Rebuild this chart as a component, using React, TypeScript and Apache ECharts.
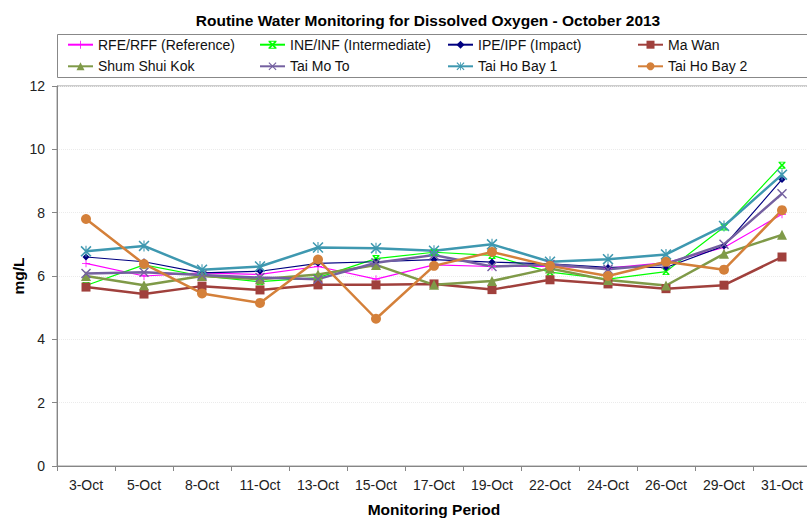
import React, { useEffect, useRef } from "react";
import * as echarts from "echarts";

const categories = ["3-Oct", "5-Oct", "8-Oct", "11-Oct", "13-Oct", "15-Oct", "17-Oct", "19-Oct", "22-Oct", "24-Oct", "26-Oct", "29-Oct", "31-Oct"];

const rfe = [6.4, 6.0, 6.1, 6.05, 6.3, 5.9, 6.35, 6.3, 6.3, 6.25, 6.42, 6.9, 7.95];
const ine = [5.7, 6.35, 6.0, 5.82, 5.95, 6.55, 6.75, 6.65, 6.12, 5.9, 6.14, 7.55, 9.5];
const ipe = [6.6, 6.45, 6.1, 6.15, 6.4, 6.45, 6.52, 6.44, 6.38, 6.27, 6.27, 6.95, 9.05];
const maWan = [5.65, 5.43, 5.68, 5.56, 5.72, 5.72, 5.75, 5.57, 5.88, 5.75, 5.6, 5.71, 6.6];
const shumShuiKok = [6.0, 5.71, 6.0, 5.9, 6.05, 6.35, 5.72, 5.84, 6.24, 5.87, 5.7, 6.7, 7.3];
const taiMoTo = [6.08, 6.12, 6.03, 5.95, 5.9, 6.42, 6.66, 6.3, 6.36, 6.21, 6.38, 7.0, 8.6];
const taiHoBay1 = [6.78, 6.95, 6.2, 6.3, 6.9, 6.88, 6.8, 7.0, 6.45, 6.53, 6.68, 7.58, 9.2];
const taiHoBay2 = [7.8, 6.38, 5.45, 5.15, 6.52, 4.65, 6.32, 6.76, 6.32, 6.0, 6.45, 6.2, 8.08];

const yTicks = { min: 0, max: 12, interval: 2 };

const PLUS = "path://M0,4.5H10V5.5H0Z M4.5,0H5.5V10H4.5Z";
const CROSS = "path://M0,1L1,0L10,9L9,10Z M9,0L10,1L1,10L0,9Z";
const ASTER = "path://M0,1L1,0L10,9L9,10Z M9,0L10,1L1,10L0,9Z M4.5,0H5.5V10H4.5Z";
const SMALLX = "path://M0,1.5L1.5,0L10,8.5L8.5,10Z M8.5,0L10,1.5L1.5,10L0,8.5Z M0,0H10V1.2H0Z M0,8.8H10V10H0Z";

export default function App() {
  const ref = useRef<HTMLDivElement>(null);
  useEffect(() => {
    if (!ref.current) return;
    const chart = echarts.init(ref.current, undefined, { renderer: "svg" });
    const font = "Liberation Sans, Arial, sans-serif";
    const mk = (name: string, data: number[], color: string, symbol: string, size: number, width: number) => ({
      name,
      type: "line",
      data,
      symbol,
      symbolSize: size,
      showAllSymbol: true,
      lineStyle: { color, width },
      itemStyle: { color, borderWidth: 0 },
      emphasis: { disabled: true },
    });
    const series = [
      mk("RFE/RFF (Reference)", rfe, "#FF00FF", PLUS, 8, 1.2),
      mk("INE/INF (Intermediate)", ine, "#00FF00", SMALLX, 7, 1.2),
      mk("IPE/IPF (Impact)", ipe, "#000080", "diamond", 7, 1.2),
      mk("Ma Wan", maWan, "#A0403C", "rect", 9, 2.5),
      mk("Shum Shui Kok", shumShuiKok, "#7F9A48", "triangle", 10, 2.5),
      mk("Tai Mo To", taiMoTo, "#7460A0", CROSS, 10, 2.5),
      mk("Tai Ho Bay 1", taiHoBay1, "#3E98B0", ASTER, 11, 2.5),
      mk("Tai Ho Bay 2", taiHoBay2, "#D4803A", "circle", 10, 2.5),
    ];
    const colX = [62, 254, 442, 632];
    const rowY = [32.7, 54.3];
    const legends = series.map((s, i) => ({
      orient: "horizontal",
      left: colX[i % 4],
      top: rowY[Math.floor(i / 4)],
      itemWidth: 25,
      itemHeight: 10,
      itemGap: 10,
      textStyle: { fontFamily: font, fontSize: 14, color: "#111" },
      data: [s.name],
    }));
    chart.setOption({
      animation: false,
      backgroundColor: "#fff",
      title: {
        text: "Routine Water Monitoring for Dissolved Oxygen - October 2013",
        left: 423,
        textAlign: "center",
        top: 7,
        textStyle: { fontFamily: font, fontSize: 15.5, fontWeight: "bold", color: "#000" },
      },
      legend: legends,
      graphic: [
        {
          type: "rect",
          shape: { x: 57.5, y: 34.5, width: 770, height: 43 },
          style: { fill: "none", stroke: "#888", lineWidth: 1 },
          silent: true,
        },
      ],
      grid: {
        left: 57,
        right: -4,
        top: 86,
        bottom: 54,
        containLabel: false,
        outerBoundsMode: "none",
        show: true,
        borderColor: "#9a9a9a",
        borderWidth: 1,
        backgroundColor: "transparent",
      },
      xAxis: {
        type: "category",
        data: categories,
        boundaryGap: true,
        axisLine: { lineStyle: { color: "#868686", width: 1 } },
        axisTick: { show: true, interval: 0, length: 5, lineStyle: { color: "#868686" } },
        axisLabel: { interval: 0, fontFamily: font, fontSize: 14, color: "#222", margin: 12 },
        name: "Monitoring Period",
        nameLocation: "middle",
        nameGap: 35,
        nameTextStyle: { fontFamily: font, fontSize: 15.5, fontWeight: "bold", color: "#000" },
        splitLine: { show: false },
      },
      yAxis: {
        type: "value",
        min: yTicks.min,
        max: yTicks.max,
        interval: yTicks.interval,
        axisLine: { show: true, lineStyle: { color: "#868686", width: 1 } },
        axisTick: { show: true, length: 5, lineStyle: { color: "#868686" } },
        axisLabel: { fontFamily: font, fontSize: 14, color: "#222", margin: 12 },
        splitLine: { show: true, lineStyle: { color: "#EBEBEB", type: "dotted", width: 1 } },
        name: "mg/L",
        nameLocation: "middle",
        nameGap: 31,
        nameMoveOverlap: false,
        nameTextStyle: { fontFamily: font, fontSize: 15.5, fontWeight: "bold", color: "#000" },
      },
      series,
    });
    return () => chart.dispose();
  }, []);
  return <div ref={ref} style={{ width: 807, height: 520, position: "absolute", left: 0, top: 0 }} />;
}
